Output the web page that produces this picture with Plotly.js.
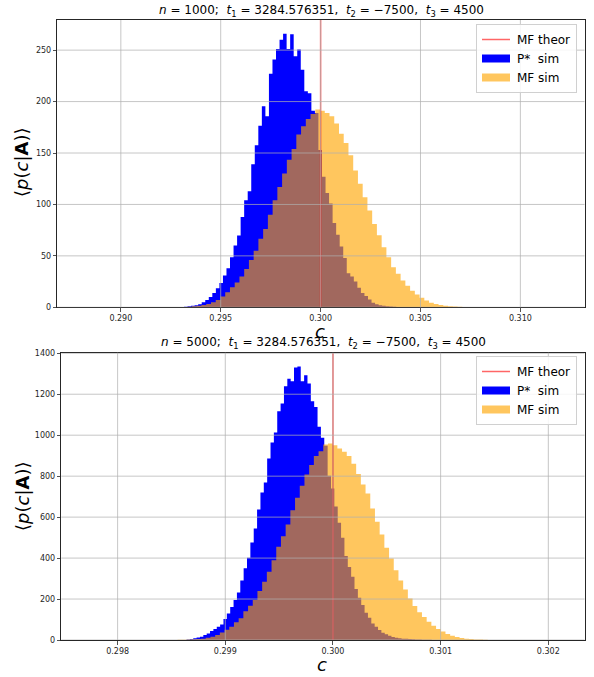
<!DOCTYPE html>
<html><head><meta charset="utf-8">
<script src="https://cdn.plot.ly/plotly-3.0.1.min.js"></script>
<style>html,body{margin:0;padding:0;background:#fff}</style>
</head><body><div id="chart" style="width:594px;height:677px"></div>
<script>
// ---- data ----
const mfTheorTop = 0.3;
const mfTheorBottom = 0.3;

// top panel (n = 1000): histogram bins (start, bin width, heights)
const topBlueStart = 0.292986, topBlueWidth = 0.0001771;
const topBlue = [0.3, 0.6, 1, 1.4, 2, 3, 5, 7, 10, 14,
  18.5, 23.7, 30.8, 38, 48.7, 60, 69.8, 87.7, 104, 112.7, 139, 157.5, 176.6, 195.5, 185.7, 227, 241, 251, 260, 266,
  251, 265.5, 244, 250.5, 231, 210, 208, 191,
  189, 153, 127, 111, 101, 82, 70.5, 59, 48, 33, 30, 25, 19, 14, 11, 7.6, 4.5, 3, 2, 1.5, 1, 0.7, 0.5, 0.3];
const topOrangeStart = 0.292615, topOrangeWidth = 0.0002373;
const topOrange = [0.1, 0.2, 0.3, 0.6, 1, 1.6, 2.3, 3.2, 4.9, 7.1, 10.4, 14.6, 19.5, 24, 30, 37.3, 46, 55, 66.6, 76,
  90, 104, 117, 130, 143.5, 154, 168, 176, 183, 188,
  192.2, 191, 189, 185.7, 178.6, 168.8, 159.7, 147.7, 133, 120, 107, 94, 81, 70, 58.4, 48.7, 39, 32.5, 26, 21,
  16.2, 12.5, 9.3, 6.5, 4.5, 3.2, 2.3, 1.6, 1.1, 0.8, 0.5, 0.3];

// bottom panel (n = 5000)
const botBlueStart = 0.298640, botBlueWidth = 0.0000312;
const botBlue = [2, 5, 8, 12, 16, 24, 32, 44, 54, 65, 76, 102, 130, 161, 195, 232, 291, 350, 402, 476, 545, 637, 720, 769,
  886, 964, 1013, 1117, 1155, 1239, 1276, 1263, 1330, 1336, 1263, 1293, 1252, 1166, 1138, 1041, 987, 948,
  802, 740, 652, 573, 499, 410, 357, 309, 249, 206, 171, 133, 109, 81, 65, 49, 36, 28, 21, 15, 11, 8, 6.5, 5.5,
  4.5, 3.5, 3, 2, 1.5, 1, 0.7];
const botOrangeStart = 0.298513, botOrangeWidth = 0.00004365;
const botOrange = [0.5, 1, 1.5, 2.5, 3.5, 5, 6.5, 11, 16, 24, 37, 50, 65, 87, 106, 140, 167, 195, 239, 285, 333, 390,
  455, 507, 564, 634, 694, 753, 808, 854, 898, 922, 955, 959,
  951, 935, 919, 898, 860, 811, 759, 715, 642, 577, 515, 450, 398, 341, 291, 247, 203, 166, 135, 112, 89, 70, 54, 41,
  29, 21, 15, 10, 6.5, 5, 3, 2, 1];

// tick labels
const topXTicks = [0.290, 0.295, 0.300, 0.305, 0.310];
const topYTicks = [0, 50, 100, 150, 200, 250];
const botXTicks = [0.298, 0.299, 0.300, 0.301, 0.302];
const botYTicks = [0, 200, 400, 600, 800, 1000, 1200, 1400];
const topXRange = [0.28682, 0.31321];
const botXRange = [0.297477, 0.302336];
const labels = {theor: 'MF theor', pstar: 'P*\u00a0 sim', mf: 'MF sim'};

// ---- helpers ----
function steps(start, w, h) {
  const x = [start], y = [0];
  for (let i = 0; i < h.length; i++) { x.push(start + i * w); y.push(h[i]); }
  x.push(start + h.length * w); y.push(0);
  return {x, y};
}
const FONT = 'DejaVu Sans';
const BLUE = '#0000ff';
const ORANGE = 'rgba(255,165,0,0.63)';
const RED = 'rgba(255,0,0,0.6)';

function panelTraces(blueStart, blueW, blue, orStart, orW, orange, mf, xa, ya, leg, ytop) {
  const b = steps(blueStart, blueW, blue);
  const o = steps(orStart, orW, orange);
  return [
    {type: 'scatter', mode: 'lines', x: b.x, y: b.y, xaxis: xa, yaxis: ya, legend: leg,
     line: {shape: 'hv', width: 0, color: BLUE}, fill: 'tozeroy', fillcolor: BLUE,
     name: labels.pstar, legendrank: 2, hoverinfo: 'skip'},
    {type: 'scatter', mode: 'lines', x: o.x, y: o.y, xaxis: xa, yaxis: ya, legend: leg,
     line: {shape: 'hv', width: 0, color: ORANGE}, fill: 'tozeroy', fillcolor: ORANGE,
     name: labels.mf, legendrank: 3, hoverinfo: 'skip'},
    {type: 'scatter', mode: 'lines', x: [mf, mf], y: [0, ytop], xaxis: xa, yaxis: ya, legend: leg,
     line: {color: RED, width: 1.5}, name: labels.theor, legendrank: 1, hoverinfo: 'skip'}
  ];
}

const topYMax = 1.05 * Math.max(...topBlue, ...topOrange);
const botYMax = 1.05 * Math.max(...botBlue, ...botOrange);

const data = [
  ...panelTraces(topBlueStart, topBlueWidth, topBlue, topOrangeStart, topOrangeWidth, topOrange, mfTheorTop, 'x', 'y', 'legend', topYMax),
  ...panelTraces(botBlueStart, botBlueWidth, botBlue, botOrangeStart, botOrangeWidth, botOrange, mfTheorBottom, 'x2', 'y2', 'legend2', botYMax)
];

// grid lines drawn above the bars (matplotlib style)
const shapes = [];
function grid(xt, yt, xr, yr) {
  xt.forEach(t => shapes.push({type: 'line', xref: xr, yref: yr + ' domain', x0: t, x1: t, y0: 0, y1: 1,
    line: {color: 'rgba(176,176,176,0.9)', width: 0.8}, layer: 'above'}));
  yt.forEach(t => shapes.push({type: 'line', xref: xr + ' domain', yref: yr, x0: 0, x1: 1, y0: t, y1: t,
    line: {color: 'rgba(176,176,176,0.9)', width: 0.8}, layer: 'above'}));
}
grid(topXTicks, topYTicks, 'x', 'y');
grid(botXTicks, botYTicks, 'x2', 'y2');

const W = 594, H = 677;
const px = v => v / W, py = v => (H - v) / H;

const axBase = {
  showline: true, mirror: true, linecolor: '#262626', linewidth: 1,
  ticks: 'outside', ticklen: 3.5, tickwidth: 0.8, tickcolor: '#262626',
  showgrid: false, zeroline: false, fixedrange: true,
  tickfont: {family: FONT, size: 8, color: '#262626'}
};

const legBase = {
  xanchor: 'right', yanchor: 'top', bgcolor: 'rgba(255,255,255,0.85)',
  bordercolor: '#d0d0d0', borderwidth: 1, font: {family: FONT, size: 12, color: '#000'},
  itemwidth: 30, tracegroupgap: 0
};

const titleTop = '<i>n</i> = 1000;  <i>t</i><sub>1</sub> = 3284.576351,  <i>t</i><sub>2</sub> = −7500,  <i>t</i><sub>3</sub> = 4500';
const titleBot = '<i>n</i> = 5000;  <i>t</i><sub>1</sub> = 3284.576351,  <i>t</i><sub>2</sub> = −7500,  <i>t</i><sub>3</sub> = 4500';
const ylab = '⟨<i>p</i>(<i>c</i>|<b>A</b>)⟩';

const ann = (text, x, y, size, extra) => Object.assign({text, x: px(x), y: py(y), xref: 'paper', yref: 'paper',
  showarrow: false, xanchor: 'center', yanchor: 'middle', font: {family: FONT, size, color: '#000'}}, extra || {});

const layout = {
  width: W, height: H, margin: {l: 0, r: 0, t: 0, b: 0},
  paper_bgcolor: '#fff', plot_bgcolor: '#fff',
  font: {family: FONT},
  showlegend: true,
  xaxis: Object.assign({}, axBase, {domain: [px(57.3), px(584.5)], range: topXRange, anchor: 'y',
    tickvals: topXTicks, tickformat: '.3f'}),
  yaxis: Object.assign({}, axBase, {domain: [py(307.3), py(20)], range: [0, topYMax], anchor: 'x',
    tickvals: topYTicks}),
  xaxis2: Object.assign({}, axBase, {domain: [px(61.3), px(584.5)], range: botXRange, anchor: 'y2',
    tickvals: botXTicks, tickformat: '.3f'}),
  yaxis2: Object.assign({}, axBase, {domain: [py(640), py(352.7)], range: [0, botYMax], anchor: 'x2',
    tickvals: botYTicks}),
  legend: Object.assign({}, legBase, {x: px(577), y: py(24)}),
  legend2: Object.assign({}, legBase, {x: px(577), y: py(356)}),
  shapes,
  annotations: [
    ann(titleTop, 321, 11, 12),
    ann(titleBot, 323, 343, 12),
    ann('<i>c</i>', 320, 331, 18),
    ann('<i>c</i>', 322, 664, 18),
    ann(ylab, 22, 163, 18, {textangle: -90}),
    ann(ylab, 22, 497, 18, {textangle: -90})
  ]
};

Plotly.newPlot('chart', data, layout, {staticPlot: true, displayModeBar: false}).then(gd => {
  // make the filled legend swatches look like matplotlib patches
  gd.querySelectorAll('.legendfill path').forEach(p => {
    const d = p.getAttribute('d');
    if (d && d.length) p.setAttribute('d', 'M5,-4h28v8h-28z');
  });
  gd.querySelectorAll('.legendlines path').forEach(p => {
    const d = p.getAttribute('d');
    if (d && d.length) p.setAttribute('d', 'M5,0h28');
  });
});
</script></body></html>
